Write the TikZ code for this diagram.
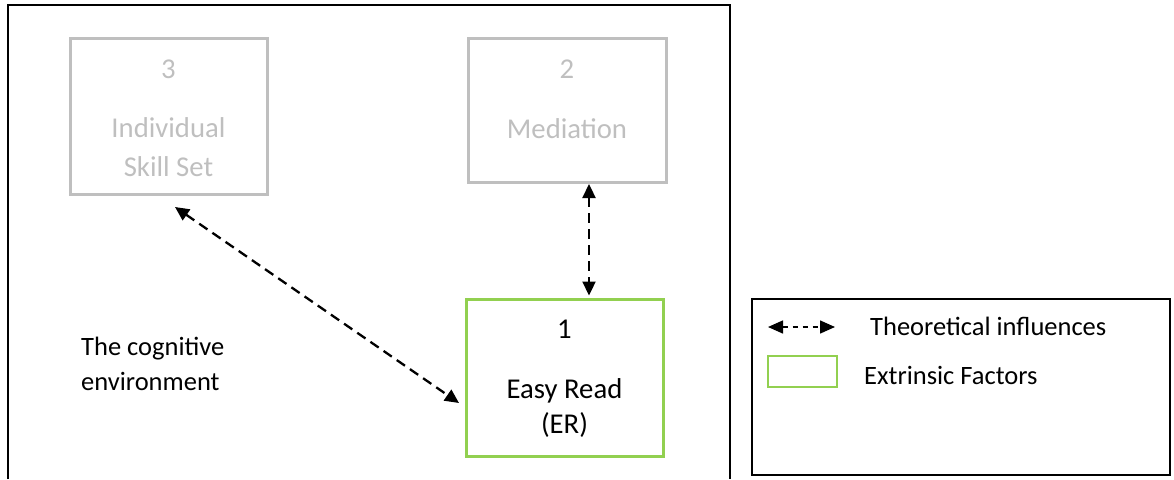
\documentclass[tikz,border=0pt]{standalone}
\usepackage{fontspec}
\setmainfont{Carlito}
\usetikzlibrary{arrows.meta}
\definecolor{boxgray}{RGB}{191,191,191}
\definecolor{extgreen}{RGB}{146,208,80}
\begin{document}
\begin{tikzpicture}[x=1pt,y=-1pt,
  factorbox/.style={draw=boxgray, line width=3pt, inner sep=0pt},
  extbox/.style={draw=extgreen, line width=3pt, inner sep=0pt},
  boxtext/.style={anchor=base, inner sep=0pt, font=\fontsize{28.7}{34}\selectfont},
  fadedtext/.style={boxtext, text=boxgray},
  plaintext/.style={anchor=base west, inner sep=0pt, font=\fontsize{26.5}{32}\selectfont},
  influence/.style={line width=2.3pt, dash pattern=on 10pt off 6pt,
    {Triangle[length=14pt,width=13pt]}-{Triangle[length=14pt,width=13pt]}},
  keyarrow/.style={line width=1.5pt, dash pattern=on 5pt off 5pt,
    {Triangle[length=15pt,width=13pt]}-{Triangle[length=15pt,width=13pt]}}]
\useasboundingbox (0,0) rectangle (1174,479);

% frame of the cognitive environment (open at the bottom)
\coordinate (fbl) at (8,479);
\coordinate (ftl) at (8,5);
\coordinate (ftr) at (730,5);
\coordinate (fbr) at (730,479);
\draw[line width=2pt] (fbl) -- (ftl) -- (ftr) -- (fbr);

% factor boxes
\node[factorbox, minimum width=197pt, minimum height=156pt] (b3) at (168.5,116) {};
\node[factorbox, minimum width=198pt, minimum height=144pt] (b2) at (567,110) {};
\node[extbox, minimum width=197pt, minimum height=157pt] (b1) at (564.5,377.5) {};

% box texts
\node[fadedtext] (t3a) at (168.5,78) {3};
\node[fadedtext] (t3b) at (168.5,137) {Individual};
\node[fadedtext] (t3c) at (168.5,176) {Skill Set};
\node[fadedtext] (t2a) at (567,78) {2};
\node[fadedtext] (t2b) at (567,138) {Mediation};
\node[boxtext] (t1a) at (564.5,338) {1};
\node[boxtext] (t1b) at (564.5,398) {Easy Read};
\node[boxtext] (t1c) at (564.5,433) {(ER)};

\node[plaintext] (env1) at (81,355) {The cognitive};
\node[plaintext] (env2) at (81,390) {environment};

% theoretical influences
\coordinate (vx) at (589,0);
\draw[influence, shorten <=0.5pt, shorten >=2pt] (b2.south -| vx) -- (b1.north -| vx);
\coordinate (d3) at (175,207);
\coordinate (d1) at (459,403);
\draw[influence] (d3) -- (d1);

% key
\node[draw, line width=2pt, minimum width=418pt, minimum height=176pt, inner sep=0pt] (key) at (961,387) {};
\coordinate (ka) at (768,327);
\coordinate (kb) at (835,327);
\draw[keyarrow] (ka) -- (kb);
\node[plaintext] (kt1) at (870,335) {Theoretical influences};
\node[draw=extgreen, line width=2.5pt, minimum width=69pt, minimum height=31pt, inner sep=0pt] (kg) at (802.5,371.5) {};
\node[plaintext] (kt2) at (864,384) {Extrinsic Factors};
\end{tikzpicture}
\end{document}
